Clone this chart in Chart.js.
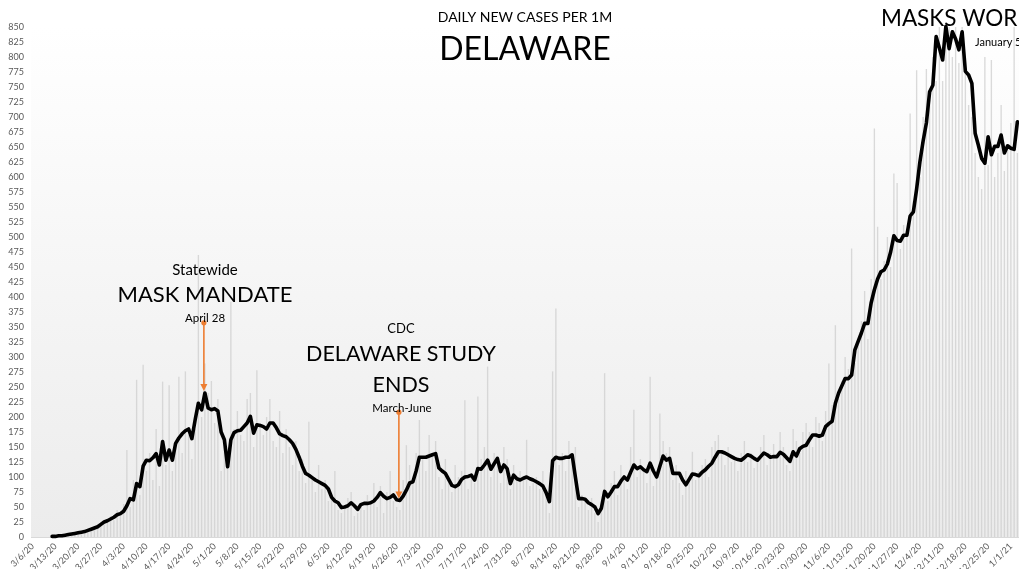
<!DOCTYPE html>
<html><head><meta charset="utf-8">
<script src="https://cdn.jsdelivr.net/npm/chart.js@4.4.0/dist/chart.umd.min.js"></script>
<style>html,body{margin:0;padding:0;background:#fff;overflow:hidden}canvas{display:block}</style>
</head><body><canvas id="c" width="1019" height="569" style="width:1019px;height:569px"></canvas>
<script>
// ---- data ----
const firstDay = '2020-03-06';
const dayCount = 304;
const tickEvery = 7;
const yTicks = { min: 0, max: 850, step: 25 };

// 7-day average, new cases per 1M (black line)
const avgValues = [
  null,null,null,null,null,null,1,
  1,2,2,3,4,5,6,
  7,8,9,11,13,15,17,
  21,25,27,30,33,37,39,
  43,52,64,62,89,84,118,
  128,127,132,139,120,159,128,
  145,128,156,165,172,177,180,
  164,195,223,212,240,215,212,
  214,210,175,162,117,162,174,
  177,178,184,190,201,173,187,
  186,184,180,190,190,182,172,
  169,167,162,156,146,133,118,
  106,103,99,95,92,89,86,
  80,66,60,57,49,50,52,
  57,52,46,54,56,56,57,
  60,66,74,68,64,66,70,
  62,61,68,78,90,92,110,
  133,133,133,135,137,139,115,
  110,106,96,86,84,87,96,
  100,101,103,95,114,113,120,
  128,113,122,131,109,120,114,
  89,103,97,95,98,100,97,
  95,92,89,85,74,59,127,
  133,131,131,133,133,137,100,
  64,64,63,57,54,50,39,
  48,76,67,75,84,84,93,
  100,95,108,120,114,117,112,
  109,123,110,100,118,135,128,
  131,106,106,106,95,87,96,
  105,104,102,108,112,118,123,
  133,142,142,140,137,134,131,
  129,128,132,137,135,131,128,
  134,140,137,133,134,134,141,
  138,132,126,142,135,147,151,
  153,162,170,170,168,170,184,
  189,193,223,240,252,264,264,
  270,312,326,340,356,356,390,
  412,430,442,445,455,475,502,
  494,493,503,503,535,542,580,
  625,660,690,742,753,834,815,
  795,851,814,842,830,812,842,
  776,770,756,673,653,631,623,
  667,637,651,651,670,640,652,
  648,646,692
];

// daily new cases per 1M (light grey columns)
const dailyValues = [
  0,0,0,0,0,0,1,
  2,1,3,3,5,4,6,
  8,7,10,12,11,18,20,
  24,20,30,35,28,45,40,
  55,145,50,95,262,70,287,
  110,140,95,180,85,259,120,
  253,110,150,267,140,276,170,
  130,180,470,200,289,240,260,
  190,230,110,150,140,392,180,
  210,170,160,230,240,150,278,
  190,170,200,230,160,150,210,
  140,180,150,120,160,110,130,
  90,192,100,75,120,80,95,
  60,70,110,45,40,50,65,
  75,35,40,55,45,70,60,
  90,50,85,40,75,110,60,
  50,45,95,153,120,90,140,
  195,130,110,170,140,160,100,
  80,130,90,75,120,100,110,
  228,80,100,90,234,130,150,
  284,100,140,120,90,150,130,
  80,120,95,110,100,162,85,
  90,100,80,110,70,40,276,
  381,120,140,110,160,130,150,
  50,70,60,45,65,40,25,
  55,273,60,90,110,70,120,
  95,80,150,212,100,130,110,
  90,267,85,110,206,160,140,
  150,95,120,90,70,110,100,
  142,95,110,120,130,100,150,
  160,170,140,120,150,125,130,
  110,140,160,125,140,115,130,
  150,170,120,140,155,135,175,
  150,120,110,180,160,140,175,
  190,175,150,200,190,160,210,
  289,220,353,230,260,300,280,
  481,290,320,360,410,330,430,
  681,517,430,460,500,450,606,
  590,480,520,500,706,560,778,
  600,700,780,720,800,760,850,
  760,840,850,800,850,790,850,
  780,720,700,640,600,580,800,
  620,795,600,640,720,610,650,
  690,850,640
];

// annotation arrows: [category index, top value]
const arrowDays = [53, 113];
const arrowTops = [357, 208];

// ---- categories (one per day) ----
const categories = [];
{
  const d0 = new Date(firstDay + 'T12:00:00');
  for (let i = 0; i < dayCount; i++) {
    const d = new Date(d0.getTime() + i * 86400000);
    categories.push((d.getMonth() + 1) + '/' + d.getDate() + '/' + String(d.getFullYear()).slice(2));
  }
}

const FONT = 'Lato, "Open Sans", sans-serif';

const decor = {
  id: 'decor',
  beforeDraw(chart) {
    const { ctx, chartArea: a } = chart;
    ctx.save();
    ctx.fillStyle = '#fff';
    ctx.fillRect(0, 0, chart.width, chart.height);
    const g = ctx.createLinearGradient(0, a.top, 0, a.bottom);
    g.addColorStop(0, '#ffffff');
    g.addColorStop(1, '#ececec');
    ctx.fillStyle = g;
    ctx.fillRect(a.left, a.top, a.right - a.left, a.bottom - a.top);
    ctx.restore();
  },
  afterDraw(chart) {
    const { ctx } = chart;
    const xs = chart.scales.x, ys = chart.scales.y;
    ctx.save();
    // arrows
    ctx.strokeStyle = '#ED7D31';
    ctx.fillStyle = '#ED7D31';
    ctx.lineWidth = 1.6;
    arrowDays.forEach((day, k) => {
      const x = xs.getPixelForValue(day) - 1;
      const y1 = ys.getPixelForValue(arrowTops[k]);
      const y2 = ys.getPixelForValue(avgValues[day]) - 2;
      ctx.beginPath(); ctx.moveTo(x, y1); ctx.lineTo(x, y2 - 5); ctx.stroke();
      ctx.beginPath(); ctx.arc(x, y1, 2.6, 0, Math.PI * 2); ctx.fill();
      ctx.beginPath(); ctx.moveTo(x - 3.5, y2 - 7); ctx.lineTo(x + 3.5, y2 - 7); ctx.lineTo(x, y2); ctx.closePath(); ctx.fill();
    });
    // text
    ctx.fillStyle = '#000';
    ctx.textBaseline = 'middle';
    const t = (s, x, y, size, align) => {
      ctx.font = size + 'px ' + FONT;
      ctx.textAlign = align || 'center';
      ctx.fillText(s, x, y);
    };
    t('DAILY NEW CASES PER 1M', 525, 17, 14);
    t('DELAWARE', 525, 50, 32);
    t('MASKS WORK', 881, 19, 22.5, 'left');
    t('January 5', 975, 42, 11, 'left');
    t('Statewide', 205, 270, 15);
    t('MASK MANDATE', 205, 295, 22);
    t('April 28', 205, 318, 11.5);
    t('CDC', 401, 329, 13);
    t('DELAWARE STUDY', 401, 354, 21.5);
    t('ENDS', 401, 385, 21.5);
    t('March-June', 402, 408, 11.5);
    ctx.restore();
  }
};

new Chart(document.getElementById('c'), {
  type: 'bar',
  data: {
    labels: categories,
    datasets: [
      {
        type: 'line',
        data: avgValues,
        borderColor: '#000',
        borderWidth: 3.6,
        pointRadius: 0,
        tension: 0,
        borderJoinStyle: 'round',
        borderCapStyle: 'round',
        spanGaps: false,
        order: 0,
        clip: 8
      },
      {
        type: 'bar',
        data: dailyValues,
        backgroundColor: 'rgba(205,205,205,0.75)',
        barPercentage: 0.42,
        categoryPercentage: 1,
        order: 1
      }
    ]
  },
  options: {
    responsive: false,
    animation: false,
    devicePixelRatio: 1,
    layout: { padding: { top: 27, right: 0, left: 0, bottom: 0 } },
    plugins: { legend: { display: false }, tooltip: { enabled: false } },
    scales: {
      x: {
        grid: { display: false, drawTicks: false },
        border: { display: true, color: '#d9d9d9' },
        ticks: {
          autoSkip: false, minRotation: 45, maxRotation: 45, padding: 4,
          color: '#595959', font: { size: 9, family: FONT },
          callback: (v, i) => (i % tickEvery === 0 ? categories[i] : '')
        },
        afterFit: s => { s.height = 32; s.paddingLeft = 0; s.paddingRight = 0; }
      },
      y: {
        min: yTicks.min, max: yTicks.max,
        grid: { display: false, drawTicks: false },
        border: { display: false },
        ticks: { stepSize: yTicks.step, padding: 7, color: '#595959', font: { size: 9, family: FONT } },
        afterFit: s => { s.width = 31; }
      }
    }
  },
  plugins: [decor]
});
</script>
</body></html>
